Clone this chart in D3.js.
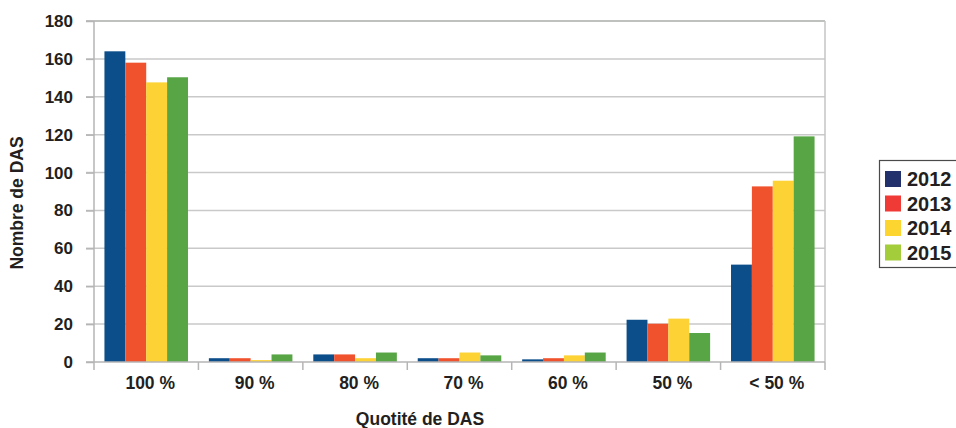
<!DOCTYPE html>
<html><head><meta charset="utf-8">
<script src="https://cdn.jsdelivr.net/npm/d3@7"></script>
<style>body{margin:0;background:#fff}svg{display:block}text{font-family:"Liberation Sans",Arial,sans-serif;fill:#231f20}</style>
</head><body><svg id="c" width="956" height="428"></svg>
<script>
const categories = ["100 %","90 %","80 %","70 %","60 %","50 %","< 50 %"];
const years = ["2012","2013","2014","2015"];
const v2012 = [164, 2, 4, 2, 1.4, 22.3, 51.4];
const v2013 = [158, 2, 4, 2, 2, 20.2, 92.7];
const v2014 = [147.6, 1, 2, 5, 3.5, 22.9, 95.7];
const v2015 = [150.3, 4, 5, 3.5, 5, 15.3, 119.1];
const yTicks = [0,20,40,60,80,100,120,140,160,180];
const barColors = ["#0b4e8a","#f0522d","#fdd235","#58a546"];
const legendColors = ["#22306b","#ef3a36","#fdd531","#a3cd3a"];
const series = [v2012,v2013,v2014,v2015];

const svg = d3.select("#c");
const L=94,R=825,T=21,B=362;
const x = d3.scaleBand().domain(categories).range([L,R]).paddingInner(0).paddingOuter(0);
const xi = d3.scaleBand().domain(years).range([0,x.bandwidth()]).paddingInner(0).paddingOuter(0.5);
const y = d3.scaleLinear().domain([0,180]).range([B,T]);

// gridlines
svg.append("g").selectAll("line").data(yTicks.filter(d=>d>0)).join("line")
  .attr("x1",L-8).attr("x2",R).attr("y1",d=>y(d)).attr("y2",d=>y(d))
  .attr("stroke",d=>d===180?"#a9aca9":"#c9c9c9").attr("stroke-width",1.5);
// right border
svg.append("line").attr("x1",R).attr("x2",R).attr("y1",T).attr("y2",B).attr("stroke","#c4c4c4").attr("stroke-width",1.5);

// bars
const g = svg.append("g");
categories.forEach((c,i)=>{
  series.forEach((s,j)=>{
    g.append("rect").attr("x",x(c)+xi(years[j])).attr("width",xi.bandwidth())
     .attr("y",y(s[i])).attr("height",B-y(s[i])).attr("fill",barColors[j]);
  });
});

// y axis
const ya = d3.axisLeft(y).tickValues(yTicks).tickSize(8).tickPadding(13);
const yg = svg.append("g").attr("transform",`translate(${L},0)`).call(ya);
yg.select(".domain").remove();
yg.selectAll(".tick line").attr("stroke","#b5b5b5").attr("stroke-width",1.5);
yg.selectAll(".tick text").attr("font-size",17).attr("font-weight","bold").style("font-family","Liberation Sans, Arial, sans-serif").attr("fill","#231f20");
svg.append("line").attr("x1",L).attr("x2",L).attr("y1",T).attr("y2",B+8).attr("stroke","#b5b5b5").attr("stroke-width",1.5);

// x axis
svg.append("line").attr("x1",L-8).attr("x2",R).attr("y1",B).attr("y2",B).attr("stroke","#b5b5b5").attr("stroke-width",1.5);
const xa = d3.axisBottom(x).tickSize(0).tickPadding(0);
const xg = svg.append("g").attr("transform",`translate(0,${B})`).call(xa);
xg.select(".domain").remove();
xg.selectAll(".tick text").attr("font-size",17.5).attr("font-weight","bold").attr("dy",null).attr("y",27).attr("dx",4)
  .style("font-family","Liberation Sans, Arial, sans-serif").attr("fill","#231f20");
svg.append("g").selectAll("line").data(categories.slice(1).concat([null])).join("line")
  .attr("x1",(d,i)=>L+(i+1)*x.bandwidth()).attr("x2",(d,i)=>L+(i+1)*x.bandwidth())
  .attr("y1",B).attr("y2",B+8).attr("stroke","#b5b5b5").attr("stroke-width",1.5);

// axis titles
svg.append("text").attr("x",420).attr("y",425).attr("text-anchor","middle").attr("font-size",17.5).attr("font-weight","bold").text("Quotité de DAS");
svg.append("text").attr("transform","translate(23,203) rotate(-90)").attr("text-anchor","middle").attr("font-size",17.5).attr("font-weight","bold").text("Nombre de DAS");

// legend
svg.append("rect").attr("x",879.5).attr("y",160.5).attr("width",90).attr("height",107).attr("fill","none").attr("stroke","#4a4a4a").attr("stroke-width",1.2);
const lg = svg.append("g").selectAll("g").data(years).join("g").attr("transform",(d,i)=>`translate(885,${171+i*24.5})`);
lg.append("rect").attr("width",16).attr("height",16).attr("fill",(d,i)=>legendColors[i]);
lg.append("text").attr("x",22).attr("y",15).attr("font-size",20).attr("font-weight","bold").text(d=>d);
</script></body></html>
